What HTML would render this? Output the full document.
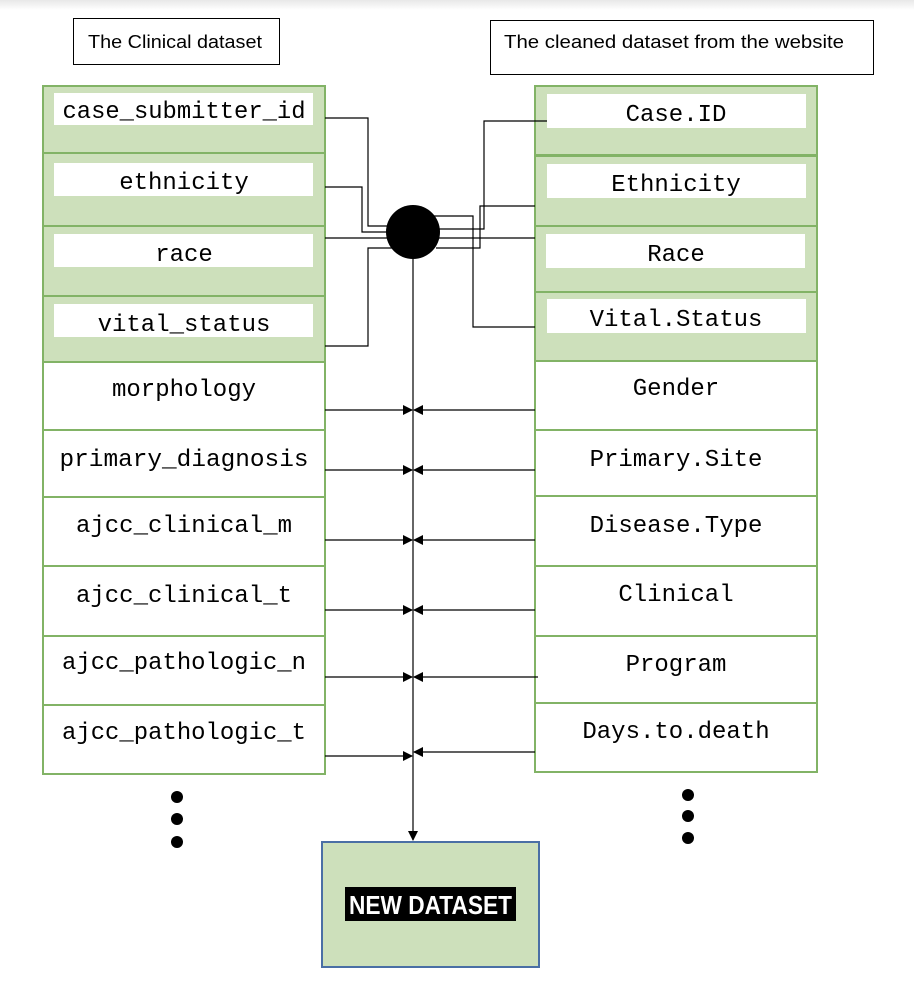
<!DOCTYPE html>
<html><head><meta charset="utf-8"><style>
html,body{margin:0;padding:0;background:#fff;}
svg{display:block;}
.m{font-family:"Liberation Mono",monospace;font-size:24px;fill:#000;}
.s{font-family:"Liberation Sans",sans-serif;font-size:18px;fill:#000;}
</style></head><body>
<svg width="914" height="990" viewBox="0 0 914 990" xmlns="http://www.w3.org/2000/svg">
<defs>
<linearGradient id="tg" x1="0" y1="0" x2="0" y2="1"><stop offset="0" stop-color="#e8e8e8"/><stop offset="1" stop-color="#fff"/></linearGradient>
<marker id="ar" markerWidth="10" markerHeight="10" refX="9" refY="5" orient="auto" markerUnits="userSpaceOnUse"><path d="M0,0 L10,5 L0,10 z" fill="#000"/></marker>
</defs>
<rect x="0" y="0" width="914" height="10" fill="url(#tg)"/>
<rect x="73.5" y="18.5" width="206" height="46" fill="#fff" stroke="#000"/>
<text class="s" x="88" y="48" textLength="174" lengthAdjust="spacingAndGlyphs">The Clinical dataset</text>
<rect x="490.5" y="20.5" width="383" height="54" fill="#fff" stroke="#000"/>
<text class="s" x="504" y="48" textLength="340" lengthAdjust="spacingAndGlyphs">The cleaned dataset from the website</text>

<g stroke="#82b366" stroke-width="2">
<rect x="43" y="86" width="282" height="67" fill="#cde0bb"/>
<rect x="43" y="153" width="282" height="73" fill="#cde0bb"/>
<rect x="43" y="226" width="282" height="70" fill="#cde0bb"/>
<rect x="43" y="296" width="282" height="66" fill="#cde0bb"/>
<rect x="43" y="362" width="282" height="68" fill="#fff"/>
<rect x="43" y="430" width="282" height="67" fill="#fff"/>
<rect x="43" y="497" width="282" height="69" fill="#fff"/>
<rect x="43" y="566" width="282" height="70" fill="#fff"/>
<rect x="43" y="636" width="282" height="69" fill="#fff"/>
<rect x="43" y="705" width="282" height="69" fill="#fff"/>

<rect x="535" y="86" width="282" height="69" fill="#cde0bb"/>
<rect x="535" y="156" width="282" height="70" fill="#cde0bb"/>
<rect x="535" y="226" width="282" height="66" fill="#cde0bb"/>
<rect x="535" y="292" width="282" height="69" fill="#cde0bb"/>
<rect x="535" y="361" width="282" height="69" fill="#fff"/>
<rect x="535" y="430" width="282" height="66" fill="#fff"/>
<rect x="535" y="496" width="282" height="70" fill="#fff"/>
<rect x="535" y="566" width="282" height="70" fill="#fff"/>
<rect x="535" y="636" width="282" height="67" fill="#fff"/>
<rect x="535" y="703" width="282" height="69" fill="#fff"/>
</g>
<g fill="#fff">
<rect x="54" y="93" width="259" height="32"/>
<rect x="54" y="163" width="259" height="33"/>
<rect x="54" y="234" width="259" height="33"/>
<rect x="54" y="304" width="259" height="33"/>
<rect x="547" y="94" width="259" height="34"/>
<rect x="547" y="164" width="259" height="34"/>
<rect x="546" y="234" width="259" height="34"/>
<rect x="547" y="299" width="259" height="34"/>
</g>
<g class="m" text-anchor="middle">
<text x="184" y="118" textLength="243" lengthAdjust="spacingAndGlyphs">case_submitter_id</text>
<text x="184" y="189">ethnicity</text>
<text x="184" y="261">race</text>
<text x="184" y="331">vital_status</text>
<text x="184" y="396">morphology</text>
<text x="184" y="466" textLength="249" lengthAdjust="spacingAndGlyphs">primary_diagnosis</text>
<text x="184" y="532">ajcc_clinical_m</text>
<text x="184" y="602">ajcc_clinical_t</text>
<text x="184" y="669" textLength="244" lengthAdjust="spacingAndGlyphs">ajcc_pathologic_n</text>
<text x="184" y="739" textLength="244" lengthAdjust="spacingAndGlyphs">ajcc_pathologic_t</text>
<text x="676" y="121">Case.ID</text>
<text x="676" y="191">Ethnicity</text>
<text x="676" y="261">Race</text>
<text x="676" y="326">Vital.Status</text>
<text x="676" y="395">Gender</text>
<text x="676" y="466">Primary.Site</text>
<text x="676" y="532">Disease.Type</text>
<text x="676" y="601">Clinical</text>
<text x="676" y="671">Program</text>
<text x="676" y="738">Days.to.death</text>
</g>

<g stroke="#000" stroke-width="1.2" fill="none">
<polyline points="325,118 368,118 368,226 390,226"/>
<polyline points="325,187 362,187 362,232 390,232"/>
<line x1="325" y1="238" x2="535" y2="238"/>
<polyline points="325,346 368,346 368,248 392,248"/>
<polyline points="547,121 484,121 484,229 436,229"/>
<polyline points="535,206 480,206 480,248 436,248"/>
<polyline points="535,327 473,327 473,216 434,216"/>
<line x1="413" y1="258" x2="413" y2="840" marker-end="url(#ar)"/>
<line x1="325" y1="410" x2="412" y2="410" marker-end="url(#ar)"/>
<line x1="325" y1="470" x2="412" y2="470" marker-end="url(#ar)"/>
<line x1="325" y1="540" x2="412" y2="540" marker-end="url(#ar)"/>
<line x1="325" y1="610" x2="412" y2="610" marker-end="url(#ar)"/>
<line x1="325" y1="677" x2="412" y2="677" marker-end="url(#ar)"/>
<line x1="325" y1="756" x2="412" y2="756" marker-end="url(#ar)"/>
<line x1="535" y1="410" x2="414" y2="410" marker-end="url(#ar)"/>
<line x1="535" y1="470" x2="414" y2="470" marker-end="url(#ar)"/>
<line x1="535" y1="540" x2="414" y2="540" marker-end="url(#ar)"/>
<line x1="535" y1="610" x2="414" y2="610" marker-end="url(#ar)"/>
<line x1="538" y1="677" x2="414" y2="677" marker-end="url(#ar)"/>
<line x1="535" y1="752" x2="414" y2="752" marker-end="url(#ar)"/>
</g>
<circle cx="413" cy="232" r="27" fill="#000"/>

<g fill="#000">
<circle cx="177" cy="797" r="6"/><circle cx="177" cy="819" r="6"/><circle cx="177" cy="842" r="6"/>
<circle cx="688" cy="795" r="6"/><circle cx="688" cy="816" r="6"/><circle cx="688" cy="838" r="6"/>
</g>

<rect x="322" y="842" width="217" height="125" fill="#cde0bb" stroke="#4a6fa5" stroke-width="2"/>
<rect x="345" y="887" width="171" height="34" fill="#000"/>
<text x="430.5" y="914" text-anchor="middle" font-family="'Liberation Sans',sans-serif" font-size="26" font-weight="bold" fill="#fff" textLength="163" lengthAdjust="spacingAndGlyphs">NEW DATASET</text>
</svg>
</body></html>
